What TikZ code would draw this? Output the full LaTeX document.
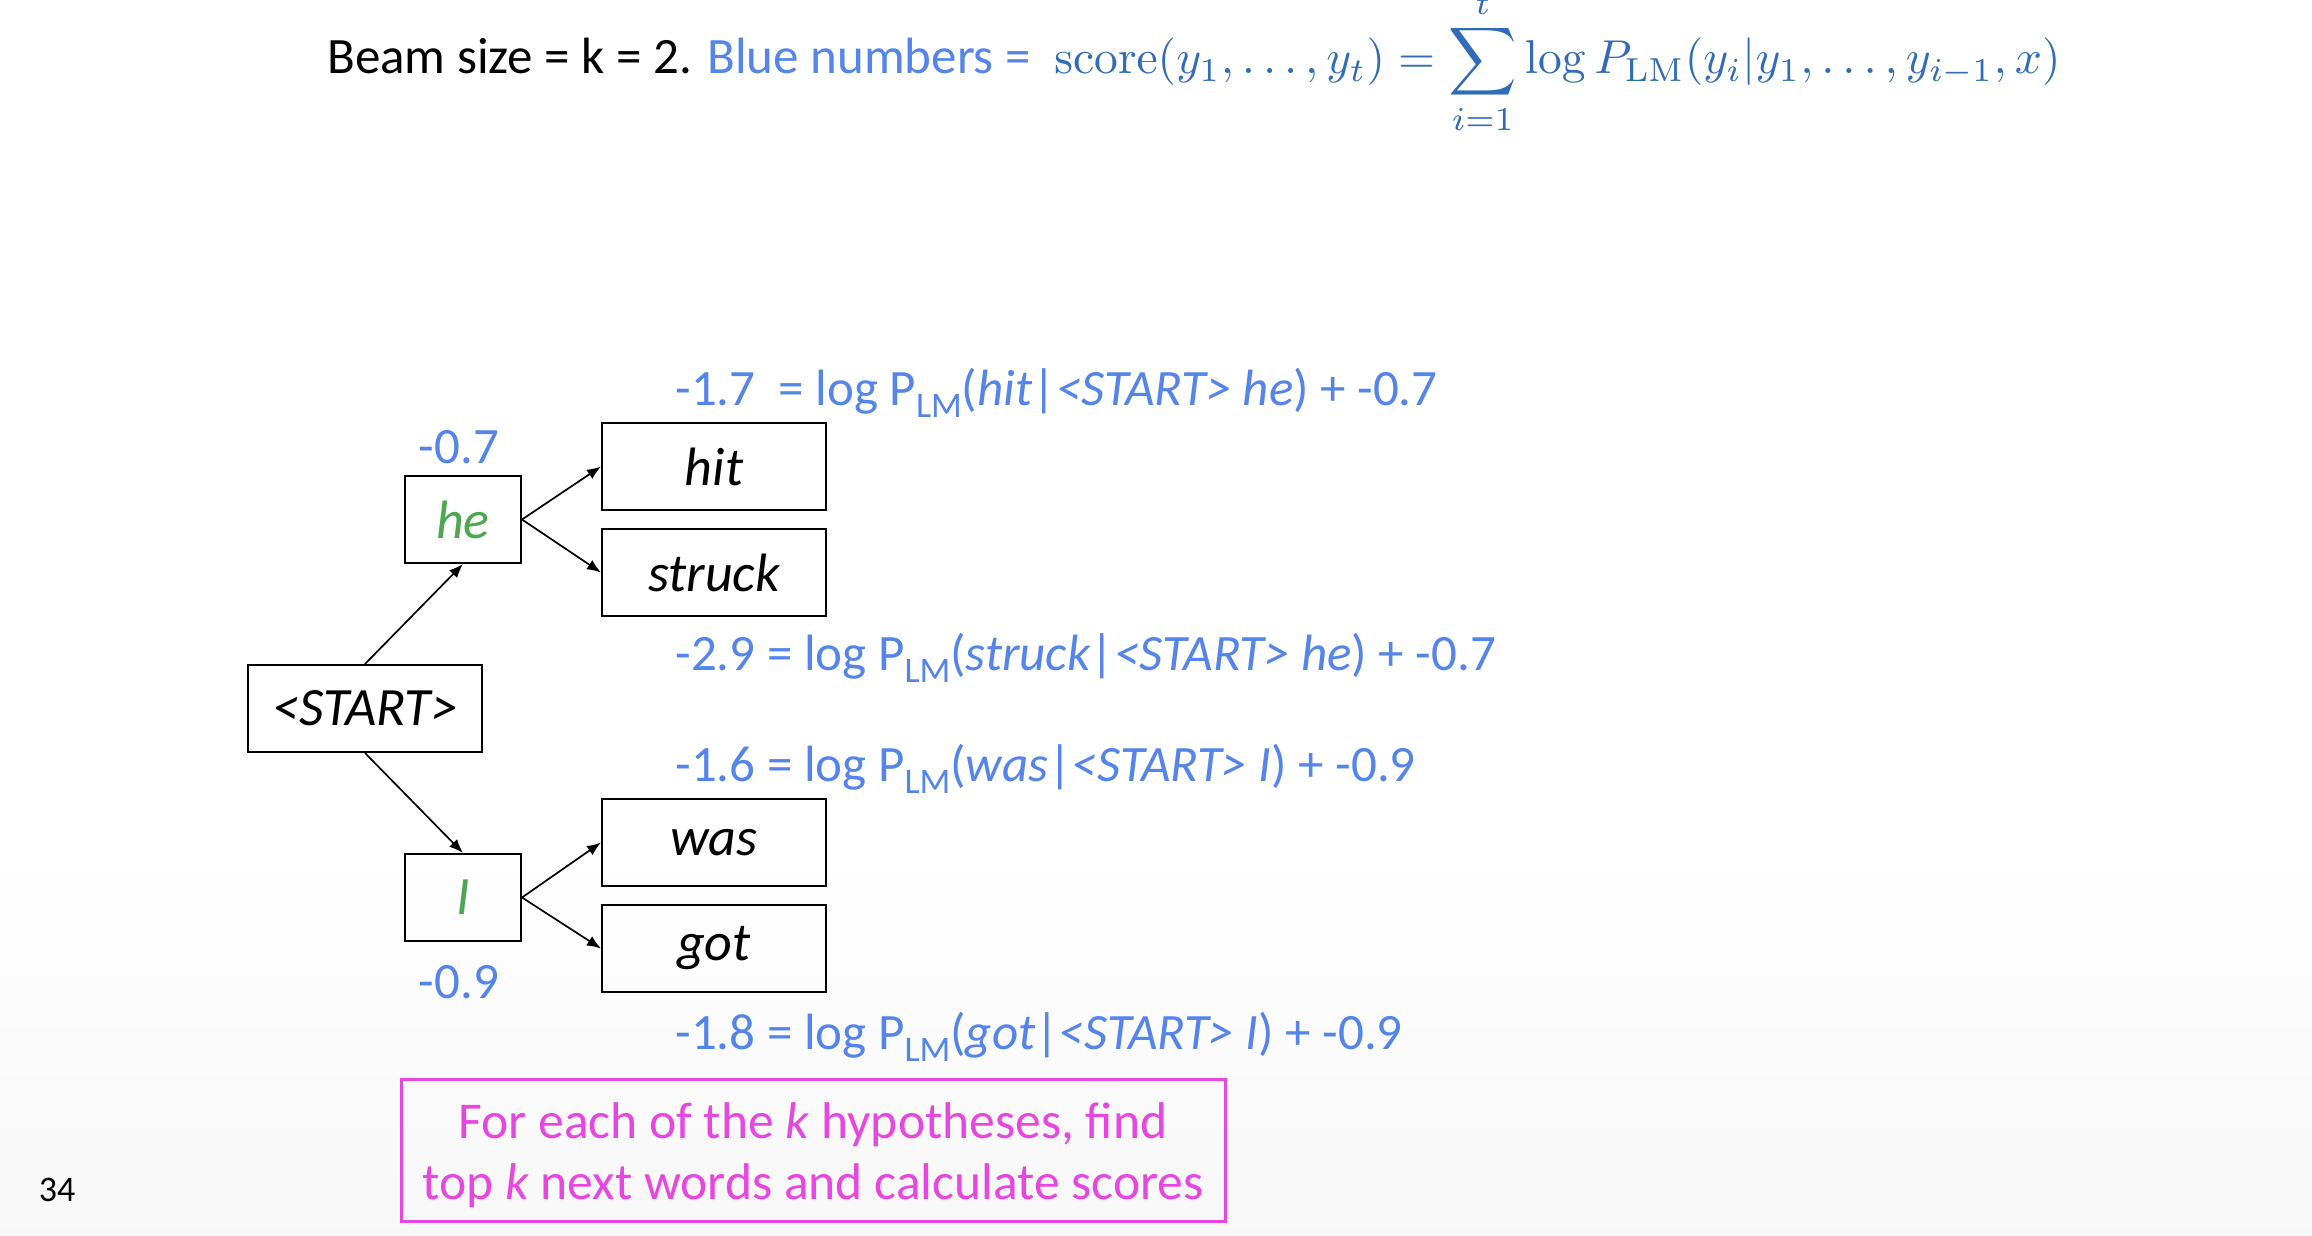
\documentclass[tikz,border=0pt]{standalone}
\usepackage[no-math]{fontspec}
\setmainfont{Carlito}
\usepackage{amsmath}
\usetikzlibrary{arrows.meta}
\definecolor{numblue}{RGB}{85,133,234}
\definecolor{mathblue}{RGB}{48,108,184}
\definecolor{wordgreen}{RGB}{76,168,80}
\definecolor{hypmag}{RGB}{232,70,224}
\newcommand{\PLMsub}{P\raisebox{-0.24em}{\fontsize{18}{18}\selectfont LM}}
\tikzset{
  wordbox/.style={draw, line width=1pt, minimum height=43.5pt, inner sep=0pt,
    font=\fontsize{27}{30}\selectfont\itshape},
  shortbox/.style={wordbox, minimum width=58pt, text=wordgreen},
  longbox/.style={wordbox, minimum width=112pt},
  scorelbl/.style={anchor=west, inner sep=0pt, text=numblue, font=\fontsize{25.5}{29}\selectfont},
  conn/.style={-{Latex[length=7pt,width=5.5pt]}, line width=0.85pt},
}
\begin{document}
\begin{tikzpicture}[x=0.5pt,y=-0.5pt]
\useasboundingbox (0,0) rectangle (2312,1236);
\fill[white] (0,0) rectangle (2312,1236);
\shade[top color=white, bottom color=black!3] (0,850) rectangle (2312,1236);

% header
\node[anchor=base west, inner sep=0pt, font=\fontsize{25.5}{29}\selectfont] (hdr) at (327,74)
  {Beam size = k = 2. \textcolor{numblue}{Blue numbers =}};
\node[anchor=base west, inner sep=0pt, text=mathblue] (formula) at (1054,74)
  {\resizebox{503pt}{!}{$\displaystyle \mathrm{score}(y_1,\ldots,y_t)=\sum_{i=1}^{t}\log P_{\mathrm{LM}}(y_i|y_1,\ldots,y_{i-1},x)$}};

% tree nodes
\node[wordbox, minimum width=117pt] (start) at (365,708.5) {<START>};
\node[shortbox] (he) at (463,519.5) {he};
\node[shortbox] (I) at (463,897.5) {I};
\node[longbox] (hit) at (714,466.5) {hit};
\node[longbox] (struck) at (714,572.5) {struck};
\node[longbox] (was) at (714,842.5) {was};
\node[longbox] (got) at (714,948.5) {got};

\draw[conn] (start.north) -- (he.south);
\draw[conn] (start.south) -- (I.north);
\draw[conn] (he.east) -- (hit.west);
\draw[conn] (he.east) -- (struck.west);
\draw[conn] (I.east) -- (was.west);
\draw[conn] (I.east) -- (got.west);

% scores
\node[scorelbl, anchor=center] (s07) at (459,447) {-0.7};
\node[scorelbl, anchor=center] (s09) at (459,982) {-0.9};
\node[scorelbl] (s17) at (675,393) {-1.7\ \ = log \PLMsub(\textit{hit}|\textit{<START> he}) + -0.7};
\node[scorelbl] (s29) at (675,658) {-2.9 = log \PLMsub(\textit{struck}|\textit{<START> he}) + -0.7};
\node[scorelbl] (s16) at (675,769) {-1.6 = log \PLMsub(\textit{was}|\textit{<START> I}) + -0.9};
\node[scorelbl] (s18) at (675,1037) {-1.8 = log \PLMsub(\textit{got}|\textit{<START> I}) + -0.9};

% note box
\draw[hypmag, line width=1.5pt] (401,1079) rectangle (1225,1221);
\node[text=hypmag, align=center, inner sep=0pt, font=\fontsize{25.8}{30.5}\selectfont] (note) at (813,1155)
  {For each of the \textit{k} hypotheses, find\\top \textit{k} next words and calculate scores};

% page number
\node[inner sep=0pt, font=\fontsize{18}{20}\selectfont] (pg) at (57,1190) {34};
\end{tikzpicture}
\end{document}
